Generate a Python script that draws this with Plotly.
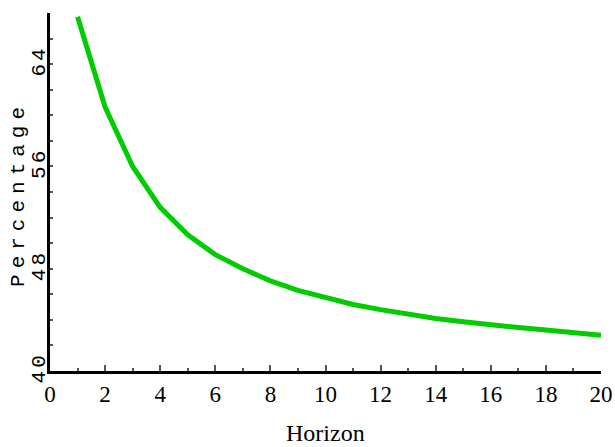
import plotly.graph_objects as go

horizon = list(range(1, 21))
percentage = [67.7, 60.65, 56.0, 52.8, 50.65, 49.1, 48.0, 47.05, 46.3, 45.75,
              45.2, 44.8, 44.4, 44.1, 43.85, 43.6, 43.4, 43.2, 43.0, 42.8]

x_tickvals = list(range(0, 21, 2))
y_tickvals = [40, 48, 56, 64]
x_title = "Horizon"
y_title = "Percentage"

fig = go.Figure()
fig.add_trace(go.Scatter(
    x=horizon, y=percentage, mode="lines",
    line=dict(color="#00CC00", width=5),
    showlegend=False, cliponaxis=False,
))

fig.update_layout(
    width=615, height=447,
    margin=dict(l=50, r=14, t=13, b=76),
    paper_bgcolor="white", plot_bgcolor="white",
    xaxis=dict(
        range=[0, 20], tickvals=x_tickvals, ticktext=[str(v) for v in x_tickvals],
        showgrid=False, zeroline=False, automargin=False,
        showline=True, linecolor="black", linewidth=3,
        ticks="inside", ticklen=6, tickwidth=1.5, tickcolor="#555",
        minor=dict(dtick=1, ticks="inside", ticklen=3, tickwidth=1.5, tickcolor="#555", showgrid=False),
        tickfont=dict(family="Liberation Serif", size=23, color="black"),
    ),
    yaxis=dict(
        range=[40, 68], tickvals=y_tickvals,
        ticktext=["<span style='letter-spacing:3px'>%d</span>" % v for v in y_tickvals],
        showgrid=False, zeroline=False, automargin=False,
        showline=True, linecolor="black", linewidth=3,
        ticks="inside", ticklen=3, tickwidth=1.5, tickcolor="#555",
        minor=dict(dtick=2, ticks="inside", ticklen=3, tickwidth=1.5, tickcolor="#555", showgrid=False),
        tickangle=-90, ticklabelstandoff=-6,
        tickfont=dict(family="Liberation Mono", size=21, color="black"),
    ),
    annotations=[
        dict(text=x_title, xref="paper", yref="paper", x=0.5, y=-0.173,
             xanchor="center", yanchor="middle", showarrow=False,
             font=dict(family="Liberation Serif", size=24, color="black")),
        dict(text="<span style='letter-spacing:6px'>%s</span>" % y_title,
             xref="paper", yref="paper", x=-0.0584, y=0.494, textangle=-90,
             xanchor="center", yanchor="middle", showarrow=False,
             font=dict(family="Liberation Mono", size=21, color="black")),
    ],
)

fig.write_html("out.html", config={"displayModeBar": False},
               post_script="document.body.style.margin='0';document.body.style.overflow='hidden';")
